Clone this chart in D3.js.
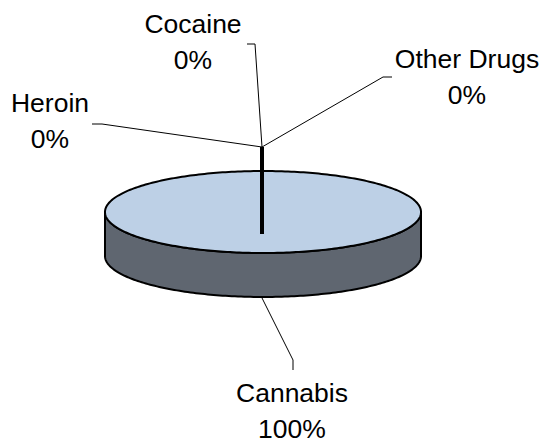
<!DOCTYPE html>
<html>
<head>
<meta charset="utf-8">
<script src="https://cdn.jsdelivr.net/npm/d3@7"></script>
<style>
  body { margin: 0; background: #fff; }
  svg { display: block; }
  text { font-family: "Liberation Sans", Arial, sans-serif; font-size: 26.5px; fill: #000; }
</style>
</head>
<body>
<svg id="chart" width="552" height="445"></svg>
<script>
// data
let categories = ["Cannabis", "Heroin", "Cocaine", "Other Drugs"];
let values = [100, 0, 0, 0];

let svg = d3.select("#chart");

let pie = {
  cx: 263,
  cy: 212,
  rx: 158,
  ry: 41,
  depth: 44
};

let slices = d3.pie()
  .sort(null)
  .startAngle(0)
  .endAngle(2 * Math.PI)(values);

let total = d3.sum(values);
let fmt = d3.format(".0%");

// angle measured clockwise from 12 o'clock -> point on the ellipse
function pt(a, dy) {
  return [pie.cx + pie.rx * Math.sin(a), pie.cy - pie.ry * Math.cos(a) + (dy || 0)];
}

function arcPoints(a0, a1, dy) {
  let n = Math.max(2, Math.ceil(Math.abs(a1 - a0) / 0.02));
  return d3.range(n + 1).map(i => pt(a0 + (a1 - a0) * i / n, dy));
}

let line = d3.line();

// side wall (front half only)
slices.forEach(s => {
  let a0 = Math.max(s.startAngle, Math.PI / 2);
  let a1 = Math.min(s.endAngle, 3 * Math.PI / 2);
  if (a1 <= a0) return;
  let pts = arcPoints(a0, a1, 0).concat(arcPoints(a1, a0, pie.depth));
  svg.append("path")
    .attr("d", line(pts) + "Z")
    .attr("fill", "#5f6670")
    .attr("stroke", "#000")
    .attr("stroke-width", 2)
    .attr("stroke-linejoin", "round");
});

// top faces
slices.forEach(s => {
  if (s.endAngle - s.startAngle <= 0) return;
  let pts = arcPoints(s.startAngle, s.endAngle, 0);
  let full = (s.endAngle - s.startAngle) >= 2 * Math.PI - 1e-6;
  if (!full) pts = [[pie.cx, pie.cy]].concat(pts);
  svg.append("path")
    .attr("d", line(pts) + "Z")
    .attr("fill", "#bdd0e6")
    .attr("stroke", "#000")
    .attr("stroke-width", 2)
    .attr("stroke-linejoin", "round");
});

// the empty slices collapse onto one edge at 12 o'clock
let edge = pt(0, 0);
let hub = [edge[0] - 1, edge[1] - 24];
svg.append("line")
  .attr("x1", hub[0]).attr("y1", hub[1])
  .attr("x2", hub[0]).attr("y2", pie.cy + 22)
  .attr("stroke", "#000")
  .attr("stroke-width", 4);

// labels and leader lines
let labels = [
  { x: 292, y: 402, leader: [[262, 298], [293, 360], [293, 370]] },
  { x: 50, y: 112, leader: [hub, [102, 124], [92, 124]] },
  { x: 193, y: 33, leader: [hub, [255, 44], [247, 44]] },
  { x: 467, y: 68, leader: [hub, [383, 77], [392, 77]] }
];

labels.forEach((l, i) => {
  svg.append("path")
    .attr("d", line(l.leader))
    .attr("fill", "none")
    .attr("stroke", "#000")
    .attr("stroke-width", 1);

  let t = svg.append("text")
    .attr("text-anchor", "middle")
    .attr("x", l.x)
    .attr("y", l.y);
  t.append("tspan").attr("x", l.x).text(categories[i]);
  t.append("tspan").attr("x", l.x).attr("dy", 36).text(fmt(values[i] / total));
});
</script>
</body>
</html>
